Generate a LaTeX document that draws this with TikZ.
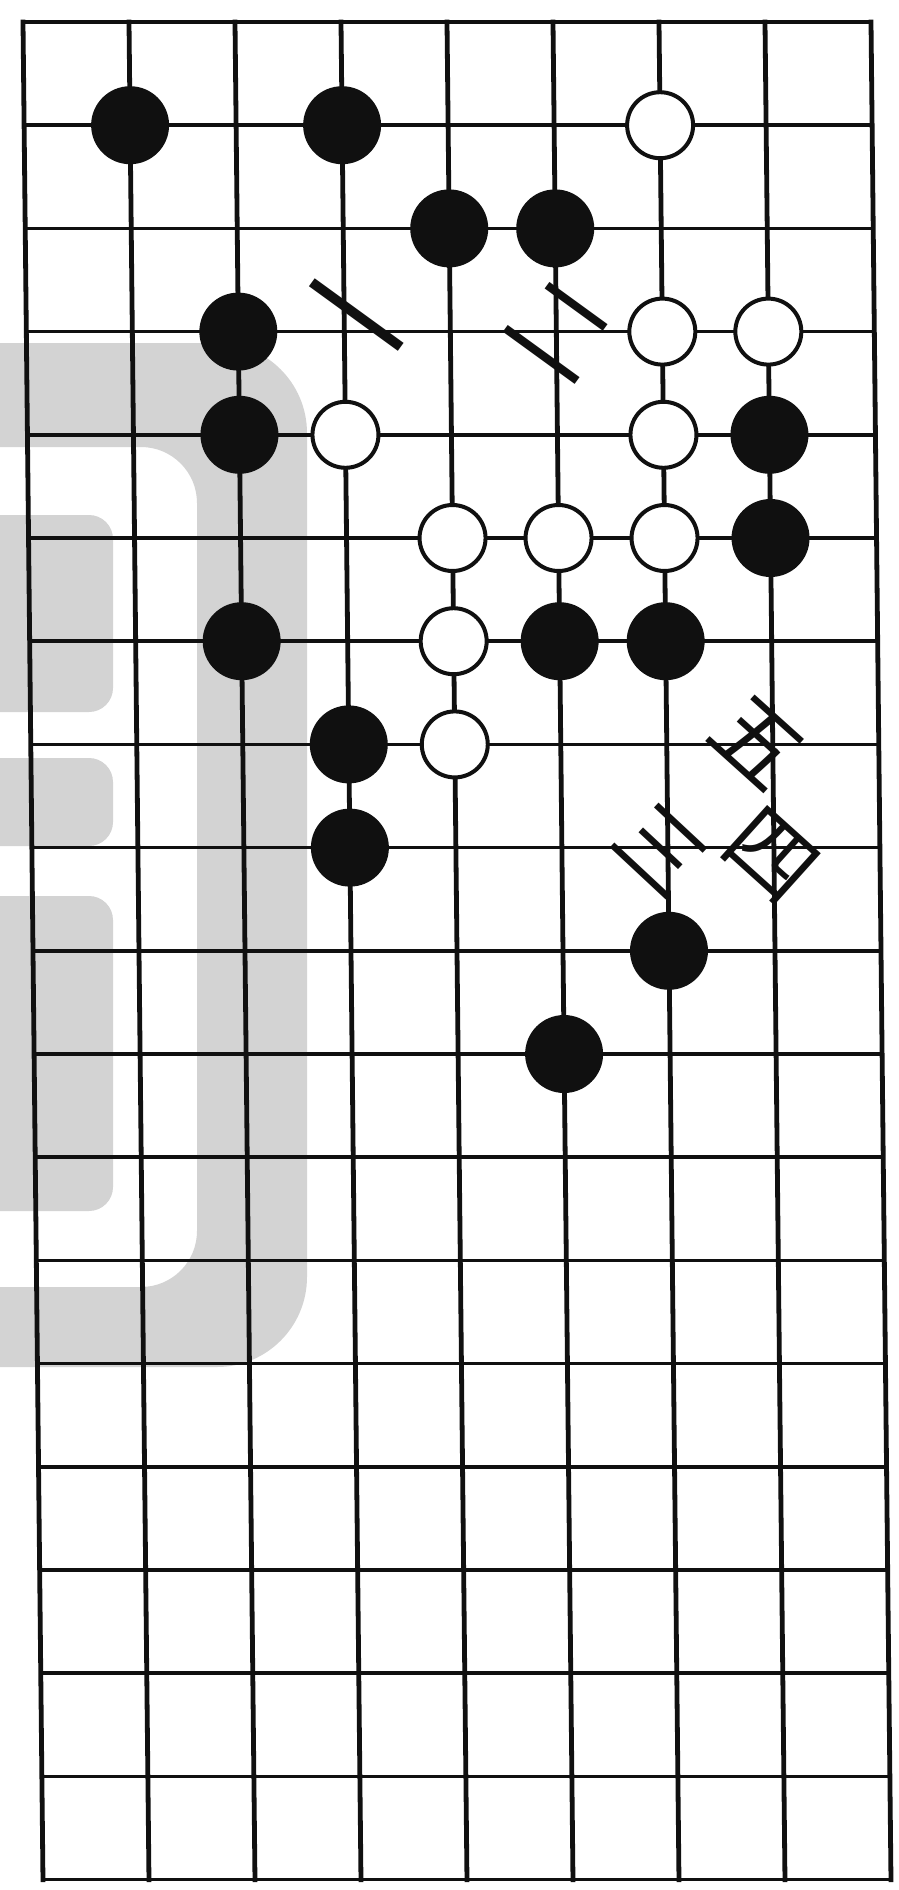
\documentclass[tikz,border=0pt]{standalone}
\usepackage{fontspec}
\newfontfamily\cjk{Noto Sans CJK SC}
\definecolor{goink}{HTML}{101010}
\definecolor{gomark}{HTML}{D3D3D3}
\tikzset{
  gridline/.style={draw=goink,line width=1.8pt,line cap=rect},
  gridrule/.style={draw=goink,line width=2.4pt,line cap=rect},
  bstone/.style={circle,fill=goink,inner sep=0pt,minimum size=39pt},
  wstone/.style={circle,draw=goink,line width=2pt,fill=white,inner sep=0pt,
                 minimum size=33pt},
  numlbl/.style={font=\cjk\fontsize{44pt}{44pt}\selectfont,text=goink,inner sep=0pt},
  wmark/.style={fill=gomark},
}

\begin{document}
\begin{tikzpicture}[x=0.5pt,y=-0.5pt]
  \useasboundingbox (0,0) rectangle (899,1890);

  % ===== faint watermark behind the board =====
  \fill[wmark,even odd rule]
    [rounded corners=45pt] (-200,343) rectangle (307,1367)
    [rounded corners=28pt] (-200,447) rectangle (197,1287);
  \foreach \t/\b in {515/712, 758/846, 896/1211}{
    \fill[wmark,rounded corners=12pt] (-60,\t) rectangle (113,\b);
  }

  % ===== board (scan is slightly sheared) =====
  \begin{scope}[shift={(23,22)},x={(53pt,0pt)},y={(0.555pt,-51.6pt)}]
    \foreach \i in {0,...,18}{
      \draw[gridline] (0,\i) -- (8,\i);
    }
    \foreach \j in {0,...,8}{
      \draw[gridrule] (\j,0) -- (\j,18);
    }

    % black stones
    \foreach \c/\r in {1/1,3/1,4/2,5/2,2/3,2/4,7/4,7/5,2/6,5/6,6/6,3/7,3/8,6/9,5/10}{
      \node[bstone] (b\c-\r) at (\c,\r) {};
    }
    % white stones
    \foreach \c/\r in {6/1,6/3,7/3,3/4,6/4,4/5,5/5,6/5,4/6,4/7}{
      \node[wstone] (w\c-\r) at (\c,\r) {};
    }

    % move numerals, set at a slant
    \node[numlbl,font=\cjk\fontsize{60pt}{60pt}\selectfont,rotate=-36] (n1) at (3,3) {一};
    \node[numlbl,font=\cjk\fontsize{50pt}{50pt}\selectfont,rotate=-36] (n2) at (5.02,3) {二};
    \node[numlbl,rotate=-43] (n3) at (5.93,8.02) {三};
    \node[numlbl,rotate=-42] (n4) at (6.97,8.08) {四};
    \node[numlbl,rotate=-42] (n5) at (6.85,6.98) {五};
  \end{scope}
\end{tikzpicture}
\end{document}
